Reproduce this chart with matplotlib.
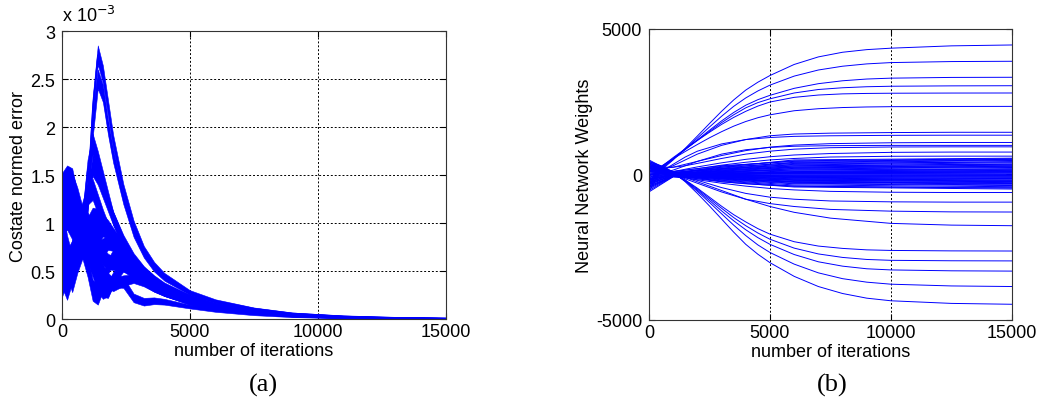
import matplotlib.pyplot as plt
from matplotlib.ticker import FormatStrFormatter

plt.rcParams['font.family'] = ['Liberation Sans', 'DejaVu Sans']
plt.rcParams['axes.unicode_minus'] = False

# ---- (a) costate normed error, values in units of 1e-3 ----
err_iters = [0, 200, 400, 600, 800, 1000, 1200, 1400, 1600, 1800, 2000, 2400,
             2800, 3200, 3600, 4000, 5000, 6000, 7500, 9000, 11000, 13000, 15000]
err_spread = [0.12, 0.12, 0.12, 0.12, 0.12, 0.11, 0.11, 0.10, 0.09, 0.08, 0.07, 0.055,
              0.045, 0.04, 0.035, 0.03, 0.02, 0.015, 0.01, 0.008, 0.006, 0.005, 0.004]
err_curves = [
    [1.30, 1.40, 1.35, 1.10, 0.95, 1.30, 2.20, 2.75, 2.55, 2.20, 1.85, 1.35, 0.98, 0.72, 0.56, 0.45, 0.28, 0.19, 0.11, 0.06, 0.030, 0.015, 0.008],
    [1.20, 1.30, 1.25, 1.00, 0.90, 1.20, 2.00, 2.50, 2.35, 2.00, 1.70, 1.25, 0.90, 0.68, 0.53, 0.43, 0.27, 0.18, 0.10, 0.055, 0.028, 0.014, 0.007],
    [1.10, 1.20, 1.10, 0.90, 1.00, 1.55, 1.82, 1.65, 1.45, 1.25, 1.05, 0.80, 0.62, 0.50, 0.41, 0.34, 0.23, 0.15, 0.085, 0.047, 0.023, 0.011, 0.006],
    [1.40, 1.48, 1.45, 1.20, 1.00, 1.25, 1.60, 1.50, 1.35, 1.20, 1.05, 0.82, 0.64, 0.51, 0.42, 0.35, 0.23, 0.15, 0.085, 0.046, 0.022, 0.011, 0.005],
    [1.25, 1.35, 1.30, 1.10, 0.95, 0.95, 1.05, 1.05, 1.00, 0.95, 0.88, 0.75, 0.62, 0.50, 0.41, 0.34, 0.22, 0.14, 0.080, 0.044, 0.021, 0.010, 0.005],
    [1.00, 1.05, 0.95, 0.85, 0.85, 0.90, 0.95, 1.00, 0.98, 0.92, 0.85, 0.72, 0.58, 0.47, 0.38, 0.31, 0.20, 0.13, 0.075, 0.040, 0.020, 0.009, 0.004],
    [0.50, 0.35, 0.55, 0.80, 0.90, 0.85, 0.80, 0.88, 0.95, 0.92, 0.85, 0.70, 0.56, 0.45, 0.36, 0.30, 0.19, 0.12, 0.070, 0.038, 0.018, 0.008, 0.004],
    [0.60, 0.40, 0.55, 0.70, 0.75, 0.55, 0.30, 0.25, 0.38, 0.55, 0.65, 0.62, 0.52, 0.42, 0.34, 0.28, 0.18, 0.115, 0.065, 0.035, 0.017, 0.008, 0.004],
    [0.45, 0.32, 0.50, 0.75, 0.85, 0.80, 0.65, 0.45, 0.32, 0.30, 0.42, 0.55, 0.50, 0.41, 0.33, 0.27, 0.17, 0.11, 0.062, 0.033, 0.016, 0.007, 0.003],
    [0.90, 0.55, 0.40, 0.60, 0.75, 0.70, 0.55, 0.38, 0.30, 0.32, 0.40, 0.38, 0.22, 0.18, 0.19, 0.18, 0.13, 0.09, 0.050, 0.028, 0.013, 0.006, 0.003],
    [1.05, 0.75, 0.55, 0.70, 0.90, 0.95, 0.80, 0.60, 0.48, 0.40, 0.36, 0.40, 0.42, 0.38, 0.32, 0.27, 0.18, 0.12, 0.065, 0.035, 0.017, 0.008, 0.004],
    [1.35, 1.45, 1.40, 1.25, 1.05, 0.85, 0.75, 0.72, 0.75, 0.80, 0.78, 0.68, 0.55, 0.45, 0.37, 0.31, 0.20, 0.13, 0.075, 0.040, 0.020, 0.009, 0.004],
    [0.80, 0.60, 0.70, 0.95, 1.10, 1.30, 1.35, 1.20, 1.05, 0.92, 0.80, 0.65, 0.52, 0.42, 0.35, 0.29, 0.19, 0.12, 0.070, 0.037, 0.018, 0.008, 0.004],
    [0.35, 0.50, 0.70, 0.85, 0.95, 1.00, 0.90, 0.75, 0.65, 0.60, 0.58, 0.55, 0.47, 0.39, 0.32, 0.27, 0.17, 0.11, 0.063, 0.034, 0.016, 0.007, 0.003],
]

# ---- (b) neural network weights ----
w_iters = [0, 500, 1000, 1500, 2000, 2500, 3000, 3500, 4000, 4500, 5000,
           6000, 7000, 8000, 9000, 10000, 12500, 15000]
w_large = [
    [-600, 150, 500, 900, 1320, 1750, 2170, 2560, 2900, 3170, 3400, 3780, 4040, 4200, 4290, 4340, 4420, 4450],
    [-500, 180, 520, 880, 1250, 1630, 2000, 2340, 2630, 2870, 3070, 3380, 3590, 3720, 3800, 3845, 3880, 3890],
    [-400, 220, 530, 860, 1190, 1520, 1840, 2130, 2380, 2570, 2720, 2960, 3120, 3220, 3280, 3310, 3335, 3340],
    [-350, 240, 550, 860, 1170, 1480, 1780, 2050, 2290, 2470, 2600, 2800, 2920, 2980, 3015, 3032, 3045, 3050],
    [-300, 260, 580, 880, 1170, 1450, 1720, 1960, 2170, 2350, 2490, 2650, 2730, 2770, 2785, 2792, 2798, 2800],
    [-250, 280, 540, 790, 1030, 1260, 1470, 1660, 1820, 1950, 2050, 2190, 2260, 2300, 2320, 2330, 2337, 2340],
    [450, 300, 80, -250, -650, -1080, -1530, -1980, -2400, -2740, -3030, -3500, -3850, -4090, -4250, -4340, -4430, -4460],
    [400, 270, 60, -230, -580, -960, -1350, -1740, -2100, -2420, -2680, -3080, -3380, -3580, -3700, -3770, -3830, -3850],
    [350, 240, 40, -220, -540, -890, -1250, -1590, -1900, -2170, -2400, -2750, -3000, -3150, -3240, -3280, -3310, -3320],
    [300, 210, 20, -200, -500, -830, -1160, -1480, -1760, -2010, -2225, -2530, -2730, -2850, -2920, -2950, -2965, -2970],
    [250, 180, 0, -190, -470, -780, -1090, -1380, -1630, -1860, -2050, -2310, -2460, -2540, -2590, -2610, -2625, -2630],
]
mid_iters = [0, 500, 1000, 1500, 2000, 3000, 4000, 5000, 6000, 7500, 10000, 12500, 15000]
w_mid = [
    [100, 150, 300, 500, 700, 1000, 1200, 1330, 1390, 1420, 1440, 1450, 1450],
    [-50, 100, 350, 600, 800, 1050, 1200, 1270, 1310, 1330, 1345, 1350, 1350],
    [200, 200, 250, 350, 450, 650, 820, 940, 1010, 1060, 1090, 1100, 1100],
    [-100, 50, 150, 300, 450, 700, 850, 930, 970, 990, 1000, 1000, 1000],
    [300, 250, 250, 300, 380, 550, 700, 800, 870, 920, 945, 950, 950],
    [0, 50, 100, 180, 260, 400, 520, 610, 670, 720, 760, 770, 770],
    [150, 100, 100, 150, 200, 320, 420, 500, 550, 600, 625, 630, 630],
    [350, 200, 50, -100, -250, -550, -850, -1100, -1300, -1500, -1680, -1740, -1760],
    [250, 150, 0, -150, -300, -600, -850, -1000, -1100, -1200, -1260, -1285, -1290],
    [200, 120, 0, -100, -200, -450, -650, -780, -850, -910, -940, -950, -950],
    [-200, -100, -80, -120, -180, -300, -400, -480, -530, -580, -610, -620, -620],
    [100, 50, -20, -80, -150, -250, -320, -370, -400, -420, -435, -440, -440],
]
core_iters = [0, 1000, 3000, 6000, 15000]
w_core = [
    [450, 100, 300, 450, 520], [-300, 50, 250, 400, 480], [200, 50, 200, 380, 430],
    [-150, 0, 200, 330, 400], [350, 80, 180, 300, 360], [-400, -50, 150, 260, 320],
    [100, 20, 120, 230, 280], [-250, 0, 100, 190, 240], [300, 30, 100, 160, 200],
    [-100, -20, 60, 120, 160], [0, 10, 50, 90, 120], [200, 0, 30, 60, 80],
    [-350, -30, 10, 30, 40], [150, 20, 10, 5, 0], [-200, 0, -10, -20, -30],
    [400, 40, -20, -50, -60], [-50, -10, -40, -80, -100], [250, 20, -50, -100, -130],
    [-500, -60, -70, -130, -160], [100, 0, -70, -150, -190], [-150, -30, -100, -180, -220],
    [350, 50, -90, -200, -250], [-600, -80, -130, -230, -280], [50, -10, -120, -250, -310],
    [-300, -40, -150, -270, -330], [500, 60, -20, 60, 90], [-450, -70, 20, 100, 140],
    [150, 10, 70, 210, 260], [300, 60, 250, 500, 560], [-200, 30, 280, 470, 540],
    [100, 40, 220, 420, 500], [-350, -20, 180, 350, 440], [250, 0, 150, 290, 350],
    [-100, 30, 130, 250, 300], [400, 50, 80, 150, 180], [-250, -40, 40, 70, 100],
    [50, 0, 20, 40, 60], [-450, -50, -30, -40, -40], [200, 20, -30, -70, -80],
    [-150, -20, -60, -110, -140], [300, 30, -80, -160, -200], [-550, -70, -110, -200, -240],
    [0, -20, -140, -260, -300], [450, 50, -160, -300, -360], [-300, -50, -180, -320, -380],
    [150, 0, -200, -360, -420], [-400, -60, -220, -400, -470], [250, 30, -250, -430, -500],
]

x_ticks = [0, 5000, 10000, 15000]
err_ticks = [0, 0.5, 1, 1.5, 2, 2.5, 3]
w_ticks = [-5000, 0, 5000]

fig = plt.figure(figsize=(10.43, 4.10), dpi=100)
ax1 = fig.add_axes([0.0594, 0.2195, 0.368, 0.7024])
ax2 = fig.add_axes([0.6222, 0.2171, 0.348, 0.7098])

grid_kw = dict(color='black', linestyle=(0, (2, 2)), linewidth=0.7)

# (a)
for c in err_curves:
    lo = [v - s for v, s in zip(c, err_spread)]
    hi = [v + s for v, s in zip(c, err_spread)]
    ax1.fill_between(err_iters, lo, hi, color='blue', linewidth=0.4)
    ax1.plot(err_iters, c, color='blue', linewidth=0.8)
ax1.set_xlim(0, 15000)
ax1.set_ylim(0, 3)
ax1.set_xticks(x_ticks)
ax1.set_yticks(err_ticks)
ax1.yaxis.set_major_formatter(FormatStrFormatter('%g'))
ax1.grid(True, **grid_kw)
ax1.set_axisbelow(True)
ax1.set_xlabel('number of iterations', fontsize=13, labelpad=1)
ax1.set_ylabel('Costate normed error', fontsize=13, labelpad=2)
ax1.text(0, 1.02, r'x 10$^{-3}$', transform=ax1.transAxes, fontsize=13,
         ha='left', va='bottom')

# (b)
for c in w_large:
    ax2.plot(w_iters, c, color='blue', linewidth=0.7)
for c in w_mid:
    ax2.plot(mid_iters, c, color='blue', linewidth=0.7)
for c in w_core:
    ax2.plot(core_iters, c, color='blue', linewidth=0.7)
ax2.set_xlim(0, 15000)
ax2.set_ylim(-5000, 5000)
ax2.set_xticks(x_ticks)
ax2.set_yticks(w_ticks)
ax2.grid(True, axis='x', **grid_kw)
ax2.set_xlabel('number of iterations', fontsize=13, labelpad=1)
ax2.set_ylabel('Neural Network Weights', fontsize=13, labelpad=2)

for ax in (ax1, ax2):
    ax.tick_params(direction='in', top=True, right=True, length=4, labelsize=13)
    ax.tick_params(axis='x', pad=3)
    ax.tick_params(axis='y', pad=5)
    for sp in ax.spines.values():
        sp.set_linewidth(0.8)
        sp.set_color('#333333')

fig.text(263 / 1043, 1 - 385 / 410, '(a)', family='Liberation Serif',
         fontsize=19, ha='center', va='center')
fig.text(832 / 1043, 1 - 385 / 410, '(b)', family='Liberation Serif',
         fontsize=19, ha='center', va='center')

fig.savefig('out.png', dpi=100)
